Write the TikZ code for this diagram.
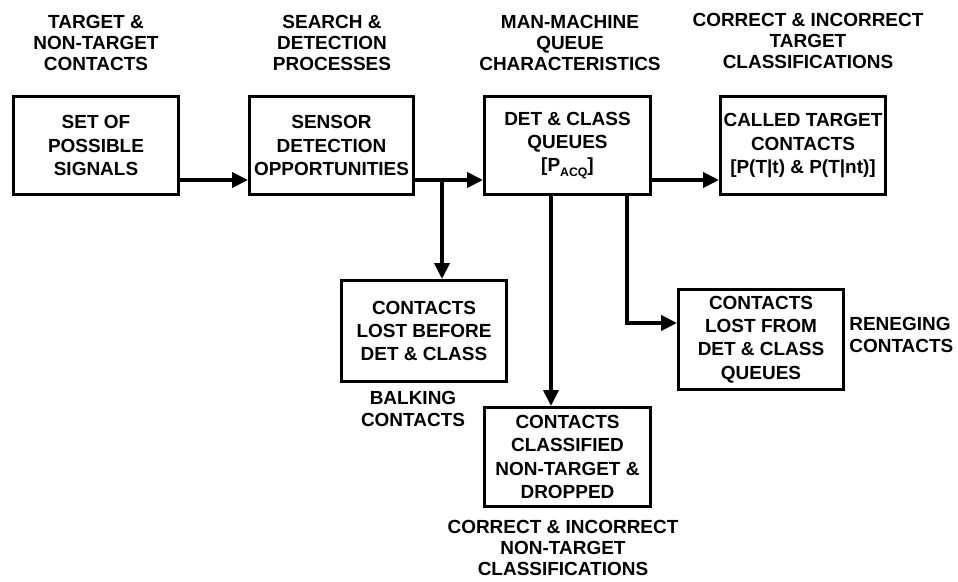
\documentclass[tikz,border=0pt]{standalone}
\usepackage{fontspec}
\setmainfont{Liberation Sans}
\usetikzlibrary{arrows.meta}
\definecolor{inkblack}{HTML}{000000}

\tikzset{
  box/.style={draw=inkblack,line width=1.7pt,inner sep=0pt,align=center,
    font=\fontsize{10.8}{13.2}\selectfont\bfseries},
  caption/.style={align=center,inner sep=0pt,
    font=\fontsize{10.8}{12.2}\selectfont\bfseries},
  flowline/.style={draw=inkblack,line width=2.2pt,-{Triangle[length=0.32cm,width=0.3cm]}}
}

\begin{document}
\begin{tikzpicture}[x=0.02cm,y=-0.02cm]
    \useasboundingbox (0,0) rectangle (958,582);

    % top row of boxes
    \node[box,minimum width=3.3cm,minimum height=1.96cm] (signals) at (96,145.5) {SET OF\\POSSIBLE\\SIGNALS};
    \node[box,minimum width=3.28cm,minimum height=1.96cm] (sensor) at (331.5,145.5) {SENSOR\\DETECTION\\OPPORTUNITIES};
    \node[box,minimum width=3.32cm,minimum height=1.96cm] (queues) at (567.5,145.5) {DET \& CLASS\\QUEUES\\{[}P\raisebox{-0.45ex}{\fontsize{7}{7}\selectfont ACQ}{]}};
    \node[box,minimum width=3.3cm,minimum height=1.96cm] (called) at (803,145.5) {CALLED TARGET\\CONTACTS\\{[}P(T\textbar t) \& P(T\textbar nt){]}};

    % lower boxes
    \node[box,minimum width=3.3cm,minimum height=2.02cm] (balked) at (424,331) {CONTACTS\\LOST BEFORE\\DET \& CLASS};
    \node[box,minimum width=3.3cm,minimum height=2.0cm] (reneged) at (761,339.5) {CONTACTS\\LOST FROM\\DET \& CLASS\\QUEUES};
    \node[box,minimum width=3.32cm,minimum height=1.98cm] (dropped) at (567.5,457) {CONTACTS\\CLASSIFIED\\NON-TARGET \&\\DROPPED};

    % captions
    \node[caption] (capA) at (96,43) {TARGET \&\\NON-TARGET\\CONTACTS};
    \node[caption] (capB) at (332,43) {SEARCH \&\\DETECTION\\PROCESSES};
    \node[caption] (capC) at (570,43) {MAN-MACHINE\\QUEUE\\CHARACTERISTICS};
    \node[caption] (capD) at (808,41) {CORRECT \& INCORRECT\\TARGET\\CLASSIFICATIONS};
    \node[caption] (capE) at (413,409) {BALKING\\CONTACTS};
    \node[caption,align=left,anchor=west] (capF) at (849,335) {RENEGING\\CONTACTS};
    \node[caption] (capG) at (563,548) {CORRECT \& INCORRECT\\NON-TARGET\\CLASSIFICATIONS};

    % branch points
    \coordinate (split) at (442,180);
    \coordinate (renegx) at (627,0);
    \coordinate (dropx) at (551,0);

    % connectors
    \draw[flowline] (signals.east |- 0,180) -- (sensor.west |- 0,180);
    \draw[flowline] (sensor.east |- 0,180) -- (queues.west |- 0,180);
    \draw[flowline] (queues.east |- 0,180) -- (called.west |- 0,180);
    \draw[flowline] (split) -- (split |- balked.north);
    \draw[flowline] (queues.south -| dropx) -- (dropped.north -| dropx);
    \draw[flowline] (queues.south -| renegx) |- (reneged.west |- 0,323);
\end{tikzpicture}
\end{document}
